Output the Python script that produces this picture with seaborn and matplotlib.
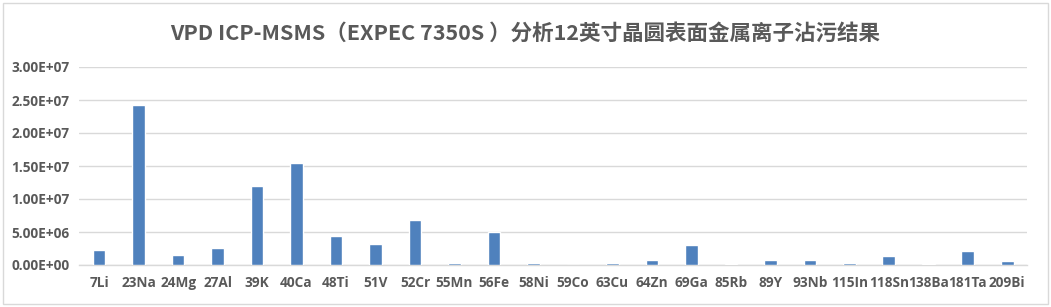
import matplotlib
matplotlib.use("Agg")
import matplotlib.pyplot as plt
import seaborn as sns
import pandas as pd
from matplotlib.patches import Rectangle
from matplotlib.ticker import FuncFormatter

elements = ["7Li", "23Na", "24Mg", "27Al", "39K", "40Ca", "48Ti", "51V", "52Cr", "55Mn",
            "56Fe", "58Ni", "59Co", "63Cu", "64Zn", "69Ga", "85Rb", "89Y", "93Nb", "115In",
            "118Sn", "138Ba", "181Ta", "209Bi"]
values = [2.2e6, 2.42e7, 1.5e6, 2.6e6, 1.2e7, 1.55e7, 4.4e6, 3.2e6, 6.8e6, 3.5e5,
          5.0e6, 3.5e5, 0.0, 3.0e5, 7.5e5, 3.0e6, 1.5e5, 7.5e5, 7.5e5, 3.0e5,
          1.4e6, 1.5e5, 2.1e6, 6.0e5]
yticks = [0, 5e6, 1e7, 1.5e7, 2e7, 2.5e7, 3e7]
title = "VPD ICP-MSMS（EXPEC 7350S ）分析12英寸晶圆表面金属离子沾污结果"

sns.set_theme(style="white")
plt.rcParams['font.family'] = ['Noto Sans CJK SC', 'DejaVu Sans']

df = pd.DataFrame({"element": elements, "value": values})

fig = plt.figure(figsize=(10.51, 3.07), dpi=100)
ax = fig.add_axes([79.4 / 1051, 1 - 265 / 307, (1027 - 79.4) / 1051, (265 - 67) / 307])

sns.barplot(data=df, x="element", y="value", color="#4F81BD", width=0.32,
            saturation=1, ax=ax, zorder=3)

ax.set_ylim(0, 3e7)
ax.set_yticks(yticks)
ax.yaxis.set_major_formatter(FuncFormatter(lambda v, p: ("%.2E" % v)))
ax.grid(axis="y", color="#D9D9D9", linewidth=1, zorder=0)
ax.set_xlabel("")
ax.set_ylabel("")
for s in ["left", "right", "top"]:
    ax.spines[s].set_visible(False)
ax.spines["bottom"].set_color("#D9D9D9")
ax.spines["bottom"].set_linewidth(1)
ax.tick_params(axis="both", length=0, colors="#595959", labelsize=9.8, pad=7)
for lab in ax.get_xticklabels() + ax.get_yticklabels():
    lab.set_fontweight("bold")
    lab.set_family(["Open Sans", "DejaVu Sans"])
ax.tick_params(axis="x", pad=8)

fig.text(0.5, 1 - 33 / 307, title, ha="center", va="center", fontsize=15.5,
         fontweight="bold", color="#595959")

fig.patches.append(Rectangle((3 / 1051, 3 / 307), 1 - 6 / 1051, 1 - 6 / 307,
                             transform=fig.transFigure, fill=False,
                             edgecolor="#D9D9D9", linewidth=1))

fig.savefig("out.png", dpi=100)
